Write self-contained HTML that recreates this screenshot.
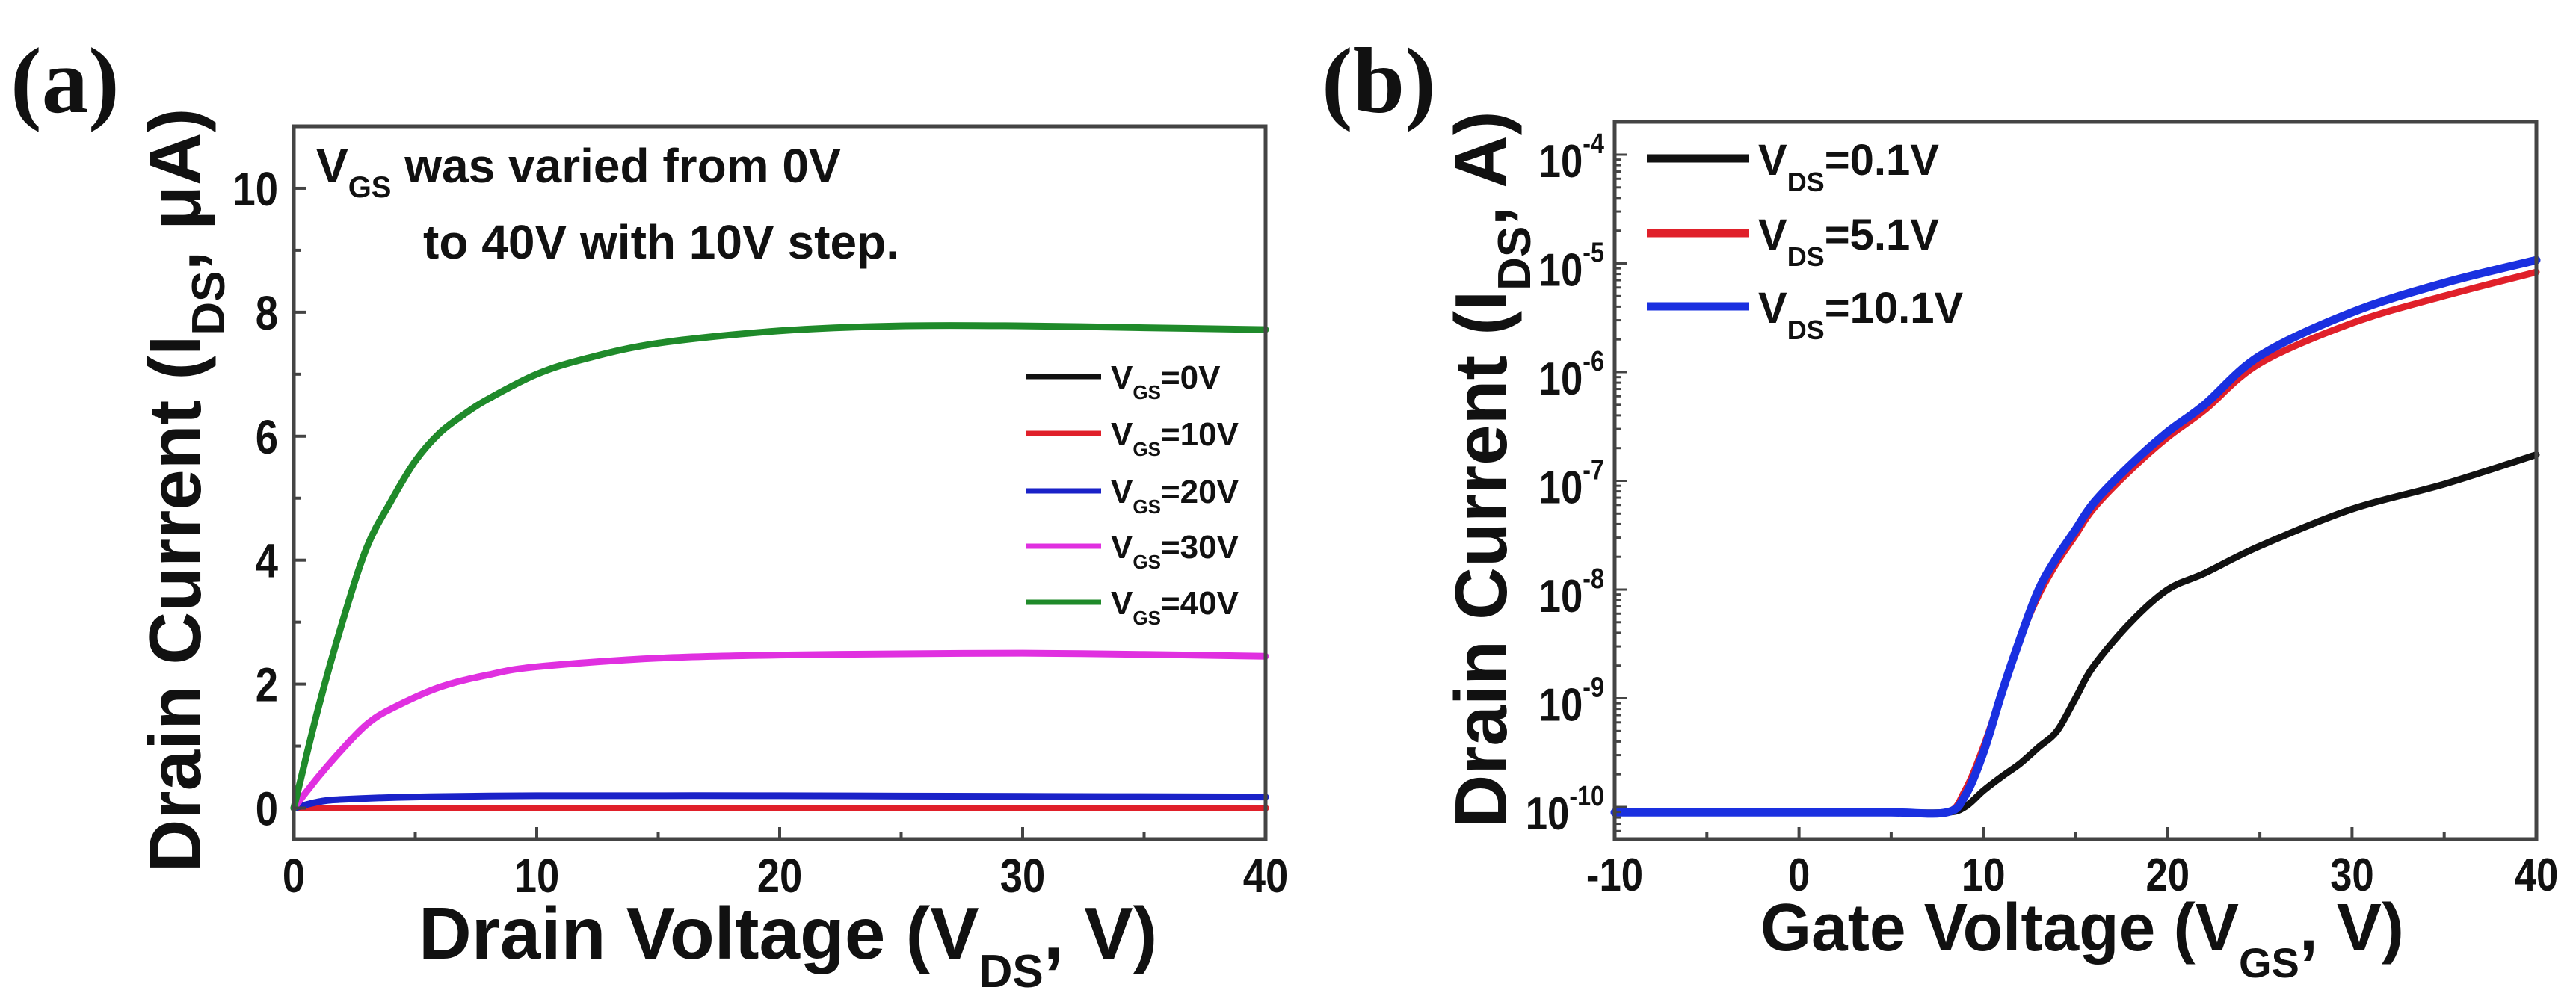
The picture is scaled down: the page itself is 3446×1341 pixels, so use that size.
<!DOCTYPE html>
<html><head><meta charset="utf-8"><style>
html,body{margin:0;padding:0;background:#fff;}
svg{display:block;}
text{font-family:"Liberation Sans",Arial,sans-serif;font-weight:bold;fill:#111;}
</style></head><body>
<svg id="fig" width="3446" height="1341" viewBox="0 0 3446 1341" xmlns="http://www.w3.org/2000/svg">
<rect width="3446" height="1341" fill="#fff"/>
<text x="14" y="150" style="font-family:'Liberation Serif',serif;font-size:125px;font-weight:bold">(a)</text>
<text x="1768" y="150" style="font-family:'Liberation Serif',serif;font-size:125px;font-weight:bold">(b)</text>
<g id="pa"></g>
<g id="pb"></g>
</svg>
<script>
// ---- Panel A data ----
const aTicksX = [0, 10, 20, 30, 40];
const aTicksY = [0, 2, 4, 6, 8, 10];
const aVds40 = [0, 1, 2, 3, 4, 5, 6, 7, 8, 10, 12, 15, 20, 25, 30, 35, 40];
const aI40 = [0, 1.6, 3.0, 4.2, 4.95, 5.6, 6.05, 6.35, 6.6, 7.0, 7.25, 7.5, 7.7, 7.78, 7.78, 7.75, 7.72];
const aVds30 = [0, 1, 2, 3, 4, 6, 8, 10, 15, 20, 25, 30, 35, 40];
const aI30 = [0, 0.5, 0.95, 1.35, 1.6, 1.95, 2.15, 2.28, 2.42, 2.47, 2.49, 2.5, 2.48, 2.45];
const aVds20 = [0, 1, 2, 5, 10, 20, 30, 40];
const aI20 = [0, 0.1, 0.14, 0.18, 0.2, 0.2, 0.19, 0.18];
const aVds10 = [0, 40];
const aI10 = [0, 0];
const aVds0 = [0, 40];
const aI0 = [0, 0];
const aLegend = ["=0V", "=10V", "=20V", "=30V", "=40V"];
const aColors = ["#111", "#e0202a", "#1a22c8", "#e030e0", "#1f8a2a"];

// ---- Panel B data ----
const bTicksX = [-10, 0, 10, 20, 30, 40];
const bTicksYExp = [-4, -5, -6, -7, -8, -9, -10];
const bVgs = [-10, -5, 0, 5, 8, 9, 10, 11, 12, 13, 14, 15, 16, 18, 20, 22, 25, 30, 35, 40];
const bLogI10 = [-10.05, -10.05, -10.05, -10.05, -10.05, -9.9, -9.5, -8.95, -8.45, -8.0, -7.7, -7.45, -7.2, -6.85, -6.55, -6.3, -5.85, -5.45, -5.18, -4.97];
const bLogI5 = [-10.05, -10.05, -10.05, -10.05, -10.05, -9.85, -9.45, -8.95, -8.45, -8.05, -7.75, -7.5, -7.25, -6.9, -6.6, -6.35, -5.92, -5.55, -5.3, -5.08];
const bLogI01 = [-10.05, -10.05, -10.05, -10.05, -10.05, -10.0, -9.85, -9.72, -9.6, -9.45, -9.3, -9.0, -8.7, -8.3, -8.0, -7.85, -7.6, -7.26, -7.03, -6.76];
const bLegend = ["=0.1V", "=5.1V", "=10.1V"];
const bColors = ["#111", "#e0202a", "#1a30e0"];

const NS = "http://www.w3.org/2000/svg";
function mk(tag, attrs, parent, txt) {
  const e = document.createElementNS(NS, tag);
  for (const k in attrs) e.setAttribute(k, attrs[k]);
  if (txt !== undefined) e.textContent = txt;
  parent.appendChild(e);
  return e;
}
function pathD(xs, ys, fx, fy) {
  const P = xs.map((x, i) => [fx(x), fy(ys[i])]);
  if (P.length < 3) return P.map((p, i) => (i ? "L" : "M") + p[0].toFixed(1) + "," + p[1].toFixed(1)).join(" ");
  let d = "M" + P[0][0].toFixed(1) + "," + P[0][1].toFixed(1);
  for (let i = 0; i < P.length - 1; i++) {
    const p0 = P[Math.max(0, i - 1)], p1 = P[i], p2 = P[i + 1], p3 = P[Math.min(P.length - 1, i + 2)];
    const c1x = p1[0] + (p2[0] - p0[0]) / 6, c1y = p1[1] + (p2[1] - p0[1]) / 6;
    const c2x = p2[0] - (p3[0] - p1[0]) / 6, c2y = p2[1] - (p3[1] - p1[1]) / 6;
    d += " C" + c1x.toFixed(1) + "," + c1y.toFixed(1) + " " + c2x.toFixed(1) + "," + c2y.toFixed(1) + " " + p2[0].toFixed(1) + "," + p2[1].toFixed(1);
  }
  return d;
}

// ===== Panel A =====
const A = document.getElementById("pa");
const aL = 393, aR = 1693, aT = 169, aB = 1123;
const ax = v => aL + (v - 0) / 40 * (aR - aL);
const ay = v => aT + (11 - v) / 11.5 * (aB - aT);
const aSeriesX = [aVds0, aVds10, aVds20, aVds30, aVds40];
const aSeriesY = [aI0, aI10, aI20, aI30, aI40];
const aNames = ["vgs-0v", "vgs-10v", "vgs-20v", "vgs-30v", "vgs-40v"];
for (let i = 0; i < 5; i++) {
  const p = mk("path", {d: pathD(aSeriesX[i], aSeriesY[i], ax, ay), fill: "none", stroke: aColors[i], "stroke-width": 9, "stroke-linejoin": "round", "stroke-linecap": "round"}, A);
  
  
}
const aFrame = mk("rect", {x: aL, y: aT, width: aR - aL, height: aB - aT, fill: "none", stroke: "#444", "stroke-width": 5}, A);


for (let v = 0; v <= 40; v += 5) {
  const len = v % 10 === 0 ? 16 : 9;
  mk("line", {x1: ax(v), x2: ax(v), y1: aB, y2: aB - len, stroke: "#444", "stroke-width": 4}, A);
}
for (let v = 0; v <= 11; v += 1) {
  const len = v % 2 === 0 ? 16 : 9;
  mk("line", {x1: aL, x2: aL + len, y1: ay(v), y2: ay(v), stroke: "#444", "stroke-width": 4}, A);
}
aTicksX.forEach(v => {
  const t = mk("text", {x: ax(v), y: 1194, "text-anchor": "middle", "font-size": 64, transform: "translate(" + ax(v) + ",0) scale(0.85,1) translate(" + (-ax(v)) + ",0)"}, A, String(v));
  
  
});
aTicksY.forEach(v => {
  const t = mk("text", {x: 372, y: ay(v) + 23, "text-anchor": "end", "font-size": 64, transform: "translate(372,0) scale(0.85,1) translate(-372,0)"}, A, String(v));
  
  
});
const axt = mk("text", {x: 560, y: 1283, "font-size": 98}, A);


axt.innerHTML = 'Drain Voltage (V<tspan font-size="62" dy="38">DS</tspan><tspan dy="-38">, V)</tspan>';
const ayt = mk("text", {x: 0, y: 0, "font-size": 98, "text-anchor": "middle", transform: "translate(268,656) rotate(-90)"}, A);


ayt.innerHTML = 'Drain Current (I<tspan font-size="62" dy="32">DS</tspan><tspan dy="-32">, μA)</tspan>';
const ann1 = mk("text", {x: 423, y: 244, "font-size": 64}, A);


ann1.innerHTML = 'V<tspan font-size="40" dy="20">GS</tspan><tspan dy="-20"> was varied from 0V</tspan>';
const ann2 = mk("text", {x: 566, y: 346, "font-size": 64, textLength: 637, lengthAdjust: "spacingAndGlyphs"}, A, "to 40V with 10V step.");


const aLegY = [504, 580, 657, 731, 806];
for (let i = 0; i < 5; i++) {
  const g = mk("g", {}, A);
  
  
  mk("line", {x1: 1372, x2: 1473, y1: aLegY[i], y2: aLegY[i], stroke: aColors[i], "stroke-width": 7}, g);
  const t = mk("text", {x: 1486, y: aLegY[i] + 16, "font-size": 44}, g);
  t.innerHTML = 'V<tspan font-size="26" dy="14">GS</tspan><tspan dy="-14">' + aLegend[i] + '</tspan>';
}

// ===== Panel B =====
const B = document.getElementById("pb");
const bL = 2160, bR = 3393, bT = 163, bB = 1123;
const bx = v => bL + (v + 10) / 50 * (bR - bL);
const DEC = 145.5;
const by = lv => 207 + (-4 - lv) * DEC;
const bSeries = [bLogI01, bLogI5, bLogI10];
const bNames = ["vds-0.1v", "vds-5.1v", "vds-10.1v"];
for (let i = 0; i < 3; i++) {
  const p = mk("path", {d: pathD(bVgs, bSeries[i], bx, by), fill: "none", stroke: bColors[i], "stroke-width": i === 2 ? 11 : 9, "stroke-linejoin": "round", "stroke-linecap": "round"}, B);
  
  
}
const bFrame = mk("rect", {x: bL, y: bT, width: bR - bL, height: bB - bT, fill: "none", stroke: "#444", "stroke-width": 5}, B);


for (let v = -10; v <= 40; v += 5) {
  const len = v % 10 === 0 ? 16 : 9;
  mk("line", {x1: bx(v), x2: bx(v), y1: bB, y2: bB - len, stroke: "#444", "stroke-width": 4}, B);
}
for (let e = -11; e <= -4; e++) {
  for (let m = 1; m < 10; m++) {
    const yy = by(e + Math.log10(m));
    if (yy < bT || yy > bB) continue;
    mk("line", {x1: bL, x2: bL + (m === 1 ? 16 : 8), y1: yy, y2: yy, stroke: "#444", "stroke-width": 3}, B);
  }
}
bTicksX.forEach(v => {
  const t = mk("text", {x: bx(v), y: 1192, "text-anchor": "middle", "font-size": 62, transform: "translate(" + bx(v) + ",0) scale(0.85,1) translate(" + (-bx(v)) + ",0)"}, B, String(v));
  
  
});
bTicksYExp.forEach(e => {
  const t = mk("text", {x: 2146, y: by(e) + 30, "text-anchor": "end", "font-size": 62, transform: "translate(2146,0) scale(0.85,1) translate(-2146,0)"}, B);
  
  
  t.innerHTML = '10<tspan font-size="38" dy="-32">' + e + '</tspan>';
});
const bxt = mk("text", {x: 2355, y: 1272, "font-size": 90, textLength: 640, lengthAdjust: "spacingAndGlyphs"}, B);


bxt.textContent = "Gate Voltage (V";
const bxt2 = mk("text", {x: 2995, y: 1272, "font-size": 90}, B);


bxt2.innerHTML = '<tspan font-size="56" dy="36">GS</tspan><tspan dy="-36">, V)</tspan>';
const byt = mk("text", {x: 0, y: 0, "font-size": 98, "text-anchor": "middle", transform: "translate(2015,628) rotate(-90)"}, B);


byt.innerHTML = 'Drain Current (I<tspan font-size="62" dy="32">DS</tspan><tspan dy="-32">, A)</tspan>';
const bLegY = [212, 312, 410];
for (let i = 0; i < 3; i++) {
  const g = mk("g", {}, B);
  
  
  mk("line", {x1: 2203, x2: 2340, y1: bLegY[i], y2: bLegY[i], stroke: bColors[i], "stroke-width": 11}, g);
  const t = mk("text", {x: 2352, y: bLegY[i] + 22, "font-size": 58}, g);
  t.innerHTML = 'V<tspan font-size="36" dy="22">DS</tspan><tspan dy="-22">' + bLegend[i] + '</tspan>';
}
</script>
</body></html>
